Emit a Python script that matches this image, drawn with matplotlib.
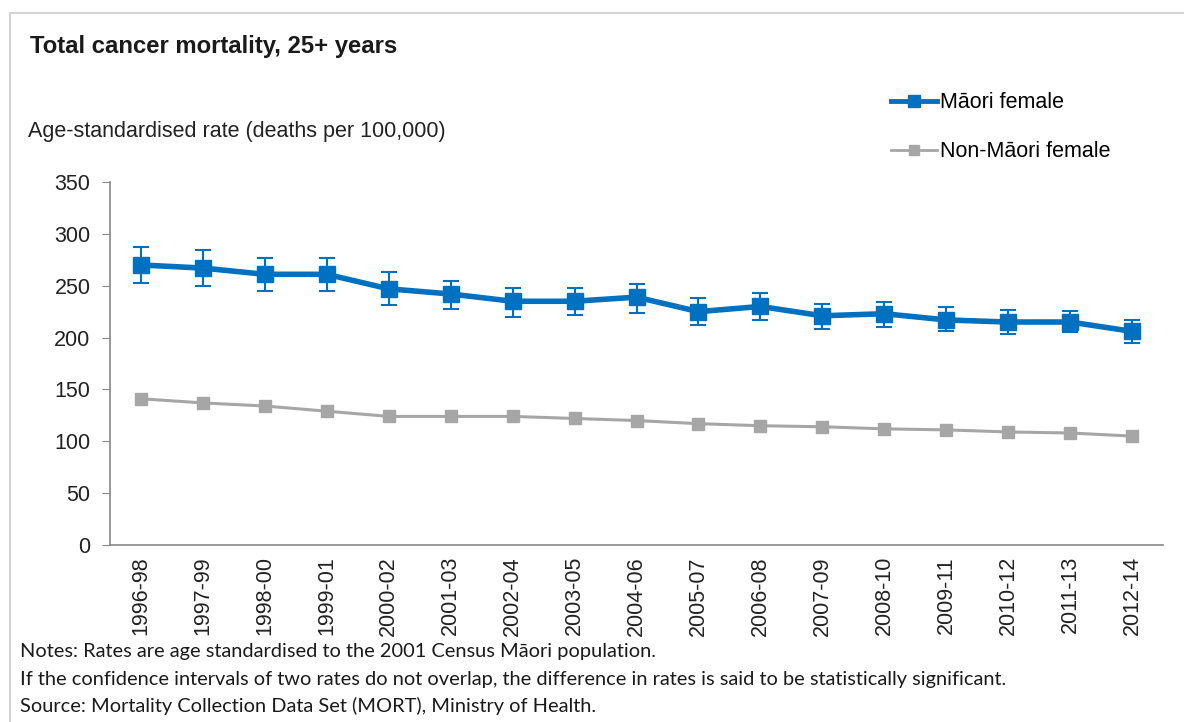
import matplotlib
matplotlib.use("Agg")
import matplotlib.pyplot as plt
from matplotlib.lines import Line2D

periods = ["1996-98", "1997-99", "1998-00", "1999-01", "2000-02", "2001-03",
           "2002-04", "2003-05", "2004-06", "2005-07", "2006-08", "2007-09",
           "2008-10", "2009-11", "2010-12", "2011-13", "2012-14"]
maori = [270, 267, 261, 261, 247, 242, 235, 235, 239, 225, 230, 221, 223, 217, 215, 215, 206]
maori_low = [253, 250, 245, 245, 231, 228, 220, 222, 224, 212, 217, 208, 210, 206, 203, 205, 195]
maori_high = [287, 284, 277, 277, 263, 255, 248, 248, 252, 238, 243, 232, 234, 229, 227, 226, 217]
non_maori = [141, 137, 134, 129, 124, 124, 124, 122, 120, 117, 115, 114, 112, 111, 109, 108, 105]

BLUE = "#0070C0"
GREY = "#A6A6A6"

W, H = 1184, 722
fig = plt.figure(figsize=(W / 100, H / 100), dpi=100)
plt.rcParams['font.family'] = ['Liberation Sans', 'DejaVu Sans']

# light outer frame (top and left edges only)
fig.add_artist(Line2D([10 / W, 1], [1 - 13 / H, 1 - 13 / H], transform=fig.transFigure,
                      color="#d4d4d4", linewidth=1.5))
fig.add_artist(Line2D([10 / W, 10 / W], [0, 1 - 13 / H], transform=fig.transFigure,
                      color="#d4d4d4", linewidth=1.5))

ax = fig.add_axes([110 / W, 1 - 545 / H, (1163 - 110) / W, (545 - 182) / H])
x = list(range(len(periods)))

yerr = [[m - lo for m, lo in zip(maori, maori_low)],
        [hi - m for m, hi in zip(maori, maori_high)]]
ax.errorbar(x, maori, yerr=yerr, color=BLUE, linewidth=4, marker="s",
            markersize=12, ecolor=BLUE, elinewidth=1.5, capsize=6, capthick=1.5, zorder=3)
ax.plot(x, non_maori, color=GREY, linewidth=2.2, marker="s", markersize=9, zorder=2)

ax.set_xlim(-0.5, len(periods) - 0.5)
ax.set_ylim(0, 350)
ax.set_yticks(range(0, 351, 50))
ax.set_xticks(x)
ax.set_xticklabels(periods, rotation=90, fontsize=15.5, color="#222222")
ax.tick_params(axis="x", length=0, pad=8)
ax.tick_params(axis="y", length=6, color="#888888", labelsize=15.5, labelcolor="#222222", pad=8)
for side in ["top", "right"]:
    ax.spines[side].set_visible(False)
for side in ["left", "bottom"]:
    ax.spines[side].set_color("#888888")
    ax.spines[side].set_linewidth(1.2)

handles = [Line2D([], [], color=BLUE, linewidth=3.5, marker="s", markersize=8),
           Line2D([], [], color=GREY, linewidth=2, marker="s", markersize=7)]
fig.legend(handles, ["Māori female", "Non-Māori female"], loc="upper left",
           bbox_to_anchor=(872 / W, 1 - 73 / H), frameon=False, fontsize=15.5,
           handlelength=2.1, handletextpad=0.15, labelspacing=1.3)

fig.text(30 / W, 1 - 47 / H, "Total cancer mortality, 25+ years", fontsize=17.2,
         fontweight="bold", va="center", color="#1a1a1a")
fig.text(28 / W, 1 - 132 / H, "Age-standardised rate (deaths per 100,000)", fontsize=15.5,
         va="center", color="#222222")

notes = ["Notes: Rates are age standardised to the 2001 Census Māori population.",
         "If the confidence intervals of two rates do not overlap, the difference in rates is said to be statistically significant.",
         "Source: Mortality Collection Data Set (MORT), Ministry of Health."]
for i, line in enumerate(notes):
    fig.text(20 / W, 1 - (652 + i * 27) / H, line, fontsize=14.4, va="center",
             family=["Lato", "DejaVu Sans"], color="#1a1a1a")

fig.savefig("out.png", dpi=100)
